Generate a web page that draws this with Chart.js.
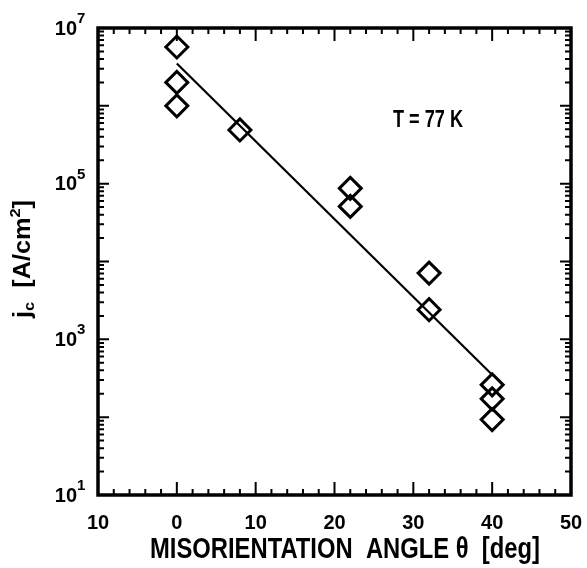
<!DOCTYPE html>
<html>
<head>
<meta charset="utf-8">
<script src="https://cdn.jsdelivr.net/npm/chart.js@4/dist/chart.umd.min.js"></script>
<style>
  html, body { margin: 0; padding: 0; background: #fff; }
  #wrap { width: 587px; height: 568px; position: relative; }
</style>
</head>
<body>
<div id="wrap"><canvas id="jcChart"></canvas></div>
<script>
// measured points: misorientation angle (deg) vs critical current density
const angles = [0, 0, 0, 8, 22, 22, 32, 32, 40, 40, 40];
const jcValues = [5.7e6, 2.0e6, 1.0e6, 4.9e5, 8.7e4, 5.1e4, 7.1e3, 2.4e3, 260, 172, 93];

// fitted line (end points)
const fitAngles = [0, 40];
const fitJc = [3.5e6, 350];

// axis ticks
const xTickValues = [-10, 0, 10, 20, 30, 40, 50];
const xTickLabels = ['10', '0', '10', '20', '30', '40', '50'];
const yTickValues = [10, 1e3, 1e5, 1e7];
const yTickExponents = ['1', '3', '5', '7'];

const note = 'T = 77 K';
const xTitle = 'MISORIENTATION  ANGLE \u03B8  [deg]';
const FONT = '"Liberation Sans", Arial, sans-serif';

// draw text squeezed horizontally to a given width (condensed look)
function fitText(ctx, text, cx, cy, font, width) {
    ctx.font = font;
    const w = ctx.measureText(text).width;
    ctx.save();
    ctx.translate(cx, cy);
    ctx.scale(width / w, 1);
    ctx.textAlign = 'center';
    ctx.fillText(text, 0, 0);
    ctx.restore();
}

// frame with inward ticks, y labels, titles and note
const framePlugin = {
    id: 'frame',
    afterDraw(chart) {
        const ctx = chart.ctx;
        const x = chart.scales.x, y = chart.scales.y;
        const a = chart.chartArea;
        ctx.save();
        ctx.strokeStyle = '#000';
        ctx.lineWidth = 3.5;
        ctx.strokeRect(a.left, a.top, a.right - a.left, a.bottom - a.top);

        ctx.lineWidth = 2;
        ctx.beginPath();
        for (let v = -10; v <= 50; v += 2) {
            const px = x.getPixelForValue(v);
            const len = v % 10 === 0 ? 13 : 6;
            ctx.moveTo(px, a.bottom); ctx.lineTo(px, a.bottom - len);
            ctx.moveTo(px, a.top); ctx.lineTo(px, a.top + len);
        }
        for (let d = 1; d < 7; d++) {
            for (let m = 1; m <= 9; m++) {
                const py = y.getPixelForValue(m * Math.pow(10, d));
                const len = m === 1 ? 11 : 6;
                ctx.moveTo(a.left, py); ctx.lineTo(a.left + len, py);
                ctx.moveTo(a.right, py); ctx.lineTo(a.right - len, py);
            }
        }
        ctx.stroke();

        ctx.fillStyle = '#000';
        ctx.textBaseline = 'middle';

        // y tick labels as 10 with superscript exponent
        yTickValues.forEach((v, i) => {
            const py = y.getPixelForValue(v);
            ctx.font = 'bold 15px ' + FONT;
            ctx.textAlign = 'left';
            ctx.fillText(yTickExponents[i], 77, py - 9);
            ctx.font = 'bold 20px ' + FONT;
            ctx.textAlign = 'right';
            ctx.fillText('10', 77, py + 1);
        });

        ctx.textBaseline = 'alphabetic';
        fitText(ctx, note, 428, 127, 'bold 23px ' + FONT, 70);
        fitText(ctx, xTitle, 345, 558, 'bold 29px ' + FONT, 390);

        // y title with subscript, rotated
        ctx.translate(30, 259);
        ctx.rotate(-Math.PI / 2);
        ctx.textAlign = 'left';
        const parts = [
            { t: 'j', f: 'bold 23px ' + FONT, dy: 0 },
            { t: 'c', f: 'bold 15px ' + FONT, dy: 4 },
            { t: '  [A/cm', f: 'bold 23px ' + FONT, dy: 0 },
            { t: '2', f: 'bold 15px ' + FONT, dy: -10 },
            { t: ']', f: 'bold 23px ' + FONT, dy: 0 }
        ];
        let total = 0;
        parts.forEach(p => { ctx.font = p.f; p.w = ctx.measureText(p.t).width; total += p.w; });
        const k = 118 / total;
        ctx.scale(k, 1);
        let sx = -total / 2;
        parts.forEach(p => {
            ctx.font = p.f;
            ctx.fillText(p.t, sx, p.dy);
            sx += p.w;
        });
        ctx.restore();
    }
};

const ctx = document.getElementById('jcChart').getContext('2d');
const jcChart = new Chart(ctx, {
    type: 'scatter',
    data: {
        datasets: [{
            label: 'jc',
            data: angles.map((a, i) => ({ x: a, y: jcValues[i] })),
            pointStyle: 'rectRot',
            pointRadius: 11,
            pointBorderWidth: 3,
            pointBorderColor: '#000',
            pointBackgroundColor: 'rgba(0,0,0,0)',
            showLine: false
        }, {
            label: 'fit',
            type: 'line',
            data: fitAngles.map((a, i) => ({ x: a, y: fitJc[i] })),
            borderColor: '#000',
            borderWidth: 2.2,
            pointRadius: 0,
            fill: false
        }]
    },
    options: {
        responsive: true,
        maintainAspectRatio: false,
        animation: false,
        layout: {
            padding: { left: 0, right: 16, top: 28, bottom: 0 }
        },
        plugins: {
            legend: { display: false },
            tooltip: { enabled: false }
        },
        scales: {
            x: {
                type: 'linear',
                min: -10,
                max: 50,
                afterBuildTicks: function (scale) {
                    scale.ticks = xTickValues.map(v => ({ value: v }));
                },
                afterFit: function (scale) {
                    scale.height = 73;
                    scale.paddingLeft = 0;
                    scale.paddingRight = 0;
                },
                ticks: {
                    padding: 16,
                    color: '#000',
                    font: { family: FONT, size: 20, weight: 'bold' },
                    maxRotation: 0,
                    callback: function (value, index) {
                        return xTickLabels[index];
                    }
                },
                grid: { display: false, drawTicks: false },
                border: { display: false }
            },
            y: {
                type: 'logarithmic',
                min: 10,
                max: 1e7,
                afterBuildTicks: function (scale) {
                    scale.ticks = yTickValues.map(v => ({ value: v }));
                },
                afterFit: function (scale) {
                    scale.width = 98;
                    scale.paddingTop = 0;
                    scale.paddingBottom = 0;
                },
                ticks: { display: false },
                grid: { display: false, drawTicks: false },
                border: { display: false }
            }
        }
    },
    plugins: [framePlugin]
});
</script>
</body>
</html>
